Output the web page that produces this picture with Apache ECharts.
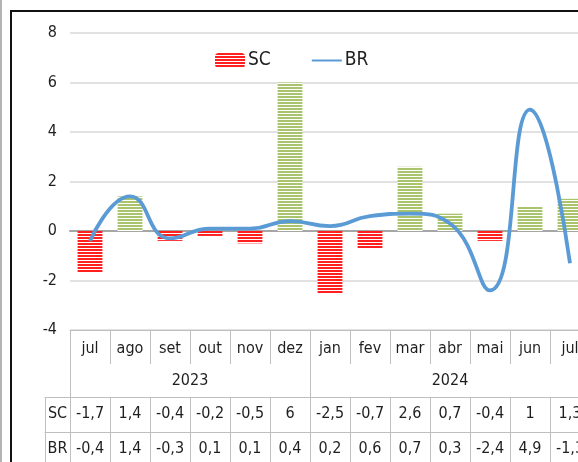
<!DOCTYPE html>
<html>
<head>
<meta charset="utf-8">
<script src="https://cdn.jsdelivr.net/npm/echarts@6/dist/echarts.min.js"></script>
<style>
  html, body { margin: 0; padding: 0; background: #fff; }
  #wrap { position: relative; width: 578px; height: 462px; overflow: hidden; }
  #chart { position: absolute; left: 0; top: 0; width: 578px; height: 462px; }
  .edge { position: absolute; pointer-events: none; }
</style>
</head>
<body>
<div id="wrap">
  <div id="chart"></div>
  <div class="edge" style="left:0;top:0;width:2px;height:462px;background:#b4b4b4"></div>
  <div class="edge" style="left:10px;top:10px;width:620px;height:520px;border-left:2px solid #111;border-top:2px solid #111"></div>
</div>
<script>
// data
const months = ['jul', 'ago', 'set', 'out', 'nov', 'dez', 'jan', 'fev', 'mar', 'abr', 'mai', 'jun', 'jul']
const years = ['2023', '2024']
const yearSpans = [6, 7]
const rowNames = ['SC', 'BR']
const scData = [-1.7, 1.4, -0.4, -0.2, -0.5, 6, -2.5, -0.7, 2.6, 0.7, -0.4, 1, 1.3]
const brData = [-0.4, 1.4, -0.3, 0.1, 0.1, 0.4, 0.2, 0.6, 0.7, 0.3, -2.4, 4.9, -1.3]

const font = "'Liberation Sans Narrow', 'DejaVu Sans Condensed', Lato, sans-serif"
const textColor = '#1f1f1f'
const tableLine = '#BFBFBF'

function stripes(color) {
  const c = document.createElement('canvas')
  c.width = 4
  c.height = 3
  const ctx = c.getContext('2d')
  ctx.fillStyle = '#fff'
  ctx.fillRect(0, 0, 4, 3)
  ctx.fillStyle = color
  ctx.fillRect(0, 0, 4, 2)
  return { image: c, repeat: 'repeat' }
}
const redFill = stripes('#FF1F1F')
const greenFill = stripes('#A9C46C')

const fmt = (v) => String(v).replace('.', ',')

// year boundaries and centres on a 0..n value scale
const yearBounds = [0]
yearSpans.forEach((s) => yearBounds.push(yearBounds[yearBounds.length - 1] + s))
const yearCenters = yearSpans.map((s, i) => yearBounds[i] + s / 2)

function tableAxis(gridIndex, data, offset, margin, labelFn) {
  return {
    gridIndex,
    type: 'category',
    data,
    position: 'bottom',
    offset,
    axisLine: { show: true, onZero: false, lineStyle: { color: tableLine, width: 1 } },
    axisTick: { show: true, length: 35, lineStyle: { color: tableLine, width: 1 } },
    axisLabel: { margin, fontFamily: font, fontSize: 16, color: textColor, formatter: labelFn },
    splitLine: { show: false }
  }
}

const chart = echarts.init(document.getElementById('chart'))

chart.setOption({
  animation: false,
  textStyle: { fontFamily: font },
  legend: {
    data: [{ name: rowNames[0] }, { name: rowNames[1], itemStyle: { opacity: 0 } }],
    left: 210,
    top: 46,
    itemWidth: 30,
    itemHeight: 15,
    itemGap: 40,
    textStyle: { fontFamily: font, fontSize: 19, color: textColor, padding: [0, 0, 0, -2] }
  },
  grid: [
    { left: 70, top: 33, width: 520, height: 297, outerBoundsMode: 'none' },
    { left: 45, top: 33, width: 25, height: 297, outerBoundsMode: 'none' }
  ],
  yAxis: [
    {
      gridIndex: 0,
      type: 'value',
      min: -4,
      max: 8,
      interval: 2,
      axisLine: { show: false },
      axisTick: { show: false },
      axisLabel: { margin: 13, fontFamily: font, fontSize: 16, color: textColor },
      splitLine: { lineStyle: { color: '#D9D9D9', width: 1.5 } }
    },
    { gridIndex: 1, type: 'value', min: -4, max: 8, show: false }
  ],
  xAxis: [
    {
      gridIndex: 0,
      type: 'category',
      data: months,
      axisLine: { onZero: true, lineStyle: { color: '#A6A6A6', width: 2 } },
      axisTick: { show: false },
      axisLabel: { show: false },
      splitLine: { show: false }
    },
    Object.assign(tableAxis(0, months, 0, 11, (v) => v), {
      axisTick: { show: true, length: 34, lineStyle: { color: tableLine, width: 1 } }
    }),
    {
      gridIndex: 0,
      type: 'value',
      min: yearBounds[0],
      max: yearBounds[yearBounds.length - 1],
      position: 'bottom',
      offset: 34,
      axisLine: { show: false, onZero: false },
      axisTick: { show: true, customValues: yearBounds, length: 33, lineStyle: { color: tableLine, width: 1 } },
      axisLabel: {
        customValues: yearCenters,
        margin: 9,
        fontFamily: font,
        fontSize: 16,
        color: textColor,
        formatter: (v) => years[yearCenters.indexOf(v)]
      },
      splitLine: { show: false }
    },
    tableAxis(0, months, 67, 9, (v, i) => fmt(scData[i])),
    tableAxis(0, months, 102, 9, (v, i) => fmt(brData[i])),
    tableAxis(1, [rowNames[0]], 67, 9, (v) => v),
    tableAxis(1, [rowNames[1]], 102, 9, (v) => v)
  ],
  series: [
    {
      name: 'SC',
      type: 'bar',
      xAxisIndex: 0,
      yAxisIndex: 0,
      barWidth: '62%',
      itemStyle: { color: redFill },
      data: scData.map((v) => ({ value: v, itemStyle: { color: v < 0 ? redFill : greenFill } }))
    },
    {
      name: 'BR',
      type: 'line',
      xAxisIndex: 0,
      yAxisIndex: 0,
      smooth: 0.5,
      symbol: 'none',
      lineStyle: { color: '#5B9BD5', width: 3.8 },
      itemStyle: { color: '#5B9BD5' },
      data: brData
    }
  ]
})
</script>
</body>
</html>
